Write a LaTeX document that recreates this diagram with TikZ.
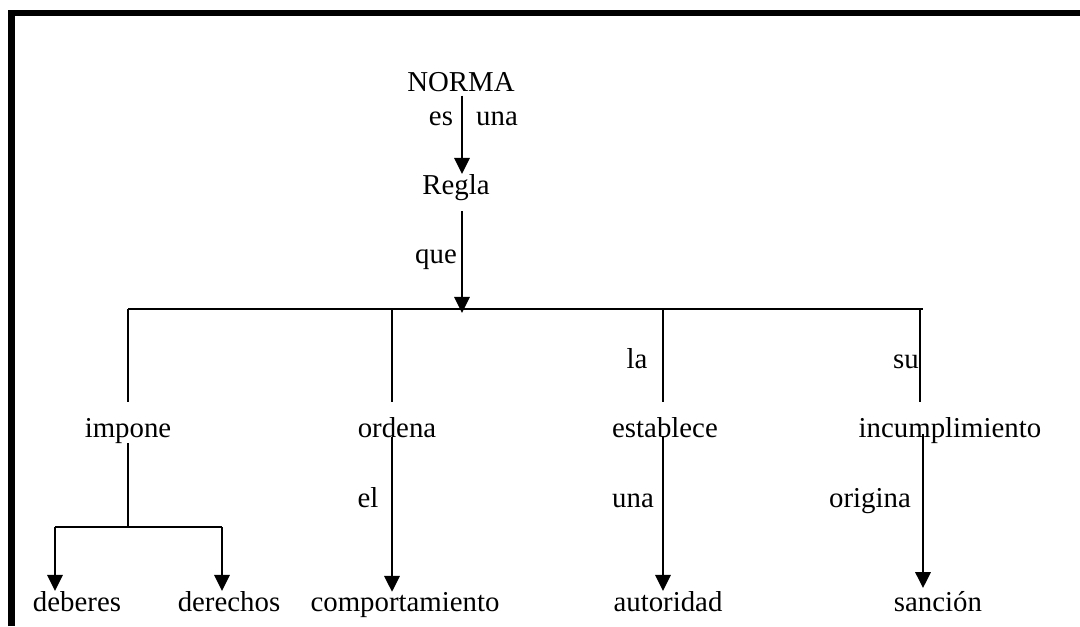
\documentclass[tikz,border=0pt]{standalone}
\usepackage{fontspec}
\setmainfont{Liberation Serif}
\usetikzlibrary{arrows.meta}

\begin{document}
\begin{tikzpicture}[
    x=0.025cm, y=-0.025cm,
    lbl/.style={inner sep=0pt, outer sep=0pt, anchor=base,
      font=\fontsize{20.5}{24}\selectfont},
    arr/.style={line width=2.1pt, -{Triangle[width=10.7pt,length=11.4pt]}},
    thin/.style={line width=1.2pt},
    frame/.style={line width=4.3pt}
  ]
  \useasboundingbox (0,0) rectangle (1080,626);

  % frame, open at right and bottom
  \draw[frame] (11.5,626) -- (11.5,13) -- (1080,13);

  % top of the map
  \node[lbl] (norma) at (461,91) {NORMA};
  \node[lbl] (es) at (441,125) {es};
  \node[lbl] (una) at (497,125) {una};
  \node[lbl] (regla) at (456,194) {Regla};
  \node[lbl] (que) at (436,263) {que};

  % second row
  \node[lbl] (la) at (637,368) {la};
  \node[lbl] (su) at (906,368) {su};
  \node[lbl] (impone) at (128,437) {impone};
  \node[lbl] (ordena) at (397,437) {ordena};
  \node[lbl] (establece) at (665,437) {establece};
  \node[lbl] (incumpl) at (950,437) {incumplimiento};

  % linking words of the last level
  \node[lbl] (el) at (368,507) {el};
  \node[lbl] (unab) at (633,507) {una};
  \node[lbl] (origina) at (870,507) {origina};

  % bottom row
  \node[lbl] (deberes) at (77,611) {deberes};
  \node[lbl] (derechos) at (229,611) {derechos};
  \node[lbl] (comport) at (405,611) {comportamiento};
  \node[lbl] (autoridad) at (668,611) {autoridad};
  \node[lbl] (sancion) at (938,611) {sanción};

  % branch points
  \coordinate (hub) at (462,313);
  \coordinate (barL) at (128,309);
  \coordinate (barR) at (923,309);
  \coordinate (b2) at (392,309);
  \coordinate (b3) at (663,309);
  \coordinate (b4) at (920,309);
  \coordinate (fork) at (128,527);
  \coordinate (fL) at (55,527);
  \coordinate (fR) at (222,527);
  \coordinate (c4) at (923,309);

  \draw[arr] ([yshift=-3pt]norma.south -| hub) -- (hub |- regla.north);
  \draw[arr] ([yshift=-8pt]regla.south -| hub) -- (hub);

  \draw[thin] (barL) -- (barR);
  \foreach \b in {barL,b2,b3,b4}
    \draw[thin] (\b) -- ++(0,93);

  % impone splits in two
  \draw[thin] (impone.south) -- (fork);
  \draw[thin] (fL) -- (fR);
  \draw[arr] (fL) -- (fL |- deberes.north);
  \draw[arr] (fR) -- (fR |- derechos.north);

  \draw[arr] (b2 |- ordena.base) -- (b2 |- comport.north);
  \draw[arr] (b3 |- establece.base) -- (b3 |- autoridad.north);
  \draw[arr] ([yshift=2pt]c4 |- incumpl.base) -- ([yshift=2pt]c4 |- sancion.north);
\end{tikzpicture}
\end{document}
